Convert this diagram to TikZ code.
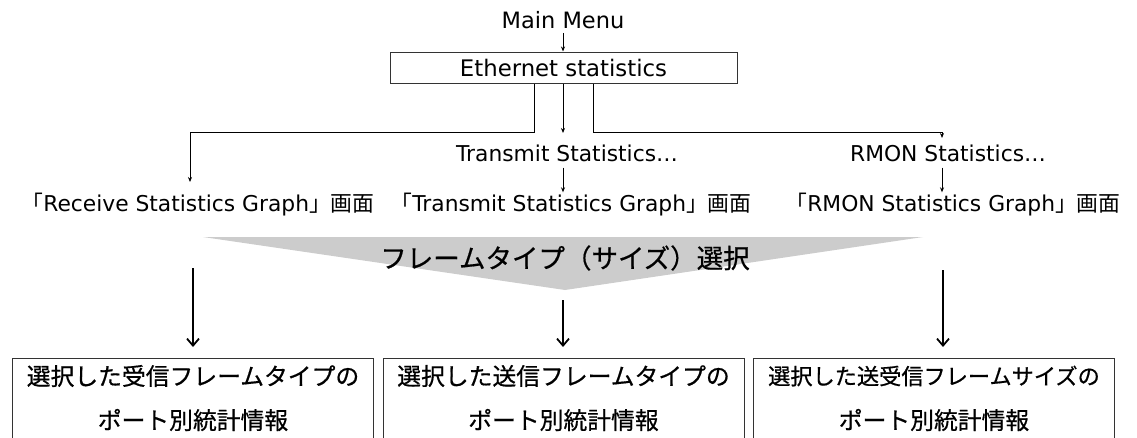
\documentclass[tikz,border=0pt]{standalone}
\usepackage{fontspec}
\setmainfont{DejaVu Sans}
\newfontfamily\jp{Noto Sans CJK JP}
\newfontfamily\jpw[FakeBold=0.6]{Noto Sans CJK JP}
\usetikzlibrary{arrows.meta}
\begin{document}
\begin{tikzpicture}[x=1pt,y=-1pt,
  lat/.style={inner sep=0pt, font=\fontsize{21.8}{25}\selectfont},
  jpbig/.style={inner sep=0pt, font=\jpw\fontsize{23.8}{28}\selectfont},
  jpmid/.style={inner sep=0pt, font=\jpw\fontsize{22.2}{28}\selectfont},
  banner/.style={inner sep=0pt, font=\jpw\fontsize{26.5}{30}\selectfont},
  ethbox/.style={draw=black!80, line width=1pt, minimum width=347pt, minimum height=31pt, inner sep=0pt, font=\fontsize{22.8}{25}\selectfont},
  outbox/.style={draw=black!80, line width=1pt, anchor=north west, minimum width=361pt, minimum height=110pt, inner sep=0pt},
  tarr/.style={line width=0.8pt, -{Stealth[length=5pt,width=4pt]}},
  bigarr/.style={line width=1.8pt, -{Straight Barb[length=7pt,width=12pt,line width=1.8pt]}, shorten >=11pt}
]
\useasboundingbox (0,0) rectangle (1137,437);
\clip (0,0) rectangle (1137,437);

% top
\node[lat, font=\fontsize{22.5}{25}\selectfont] (mm) at (563,20) {Main Menu};
\node[ethbox] (eth) at (563.5,67.5) {Ethernet statistics};

% middle labels
\node[lat] (tx) at (567,153) {Transmit Statistics…};
\node[lat] (rm) at (948,153) {RMON Statistics…};
\node[lat] (rxg) at (198,205) {{\jp 「}Receive Statistics Graph{\jp 」画面}};
\node[lat] (txg) at (571,205) {{\jp 「}Transmit Statistics Graph{\jp 」画面}};
\node[lat] (rmg) at (953,205) {{\jp 「}RMON Statistics Graph{\jp 」画面}};

% helper x positions
\coordinate (xl) at (534,0);
\coordinate (xm) at (563,0);
\coordinate (xr) at (593,0);
\coordinate (cl) at (190,182);
\coordinate (cr) at (942,138);
\coordinate (cm) at (563,133);

% connectors top
\draw[tarr] ([yshift=-4]mm.south -| xm) -- (eth.north -| xm);
\draw[tarr] (eth.south -| xl) |- (cl |- 0,132) -- (cl);
\draw[tarr] (eth.south -| xm) -- (cm);
\draw[tarr] (eth.south -| xr) |- (cr |- 0,132) -- (cr);
\draw[tarr] ([yshift=-6]tx.south -| xm) -- ([yshift=1]txg.north -| xm);
\draw[tarr] ([yshift=-6]rm.south -| cr) -- ([yshift=1]rmg.north -| cr);

% banner
\fill[black!20] (203,237) -- (923,237) -- (565,290) -- cycle;
\node[banner] (ban) at (565,258) {フレームタイプ（サイズ）選択};

% bottom boxes
\node[outbox] (b1) at (12,358) {};
\node[outbox] (b2) at (382.5,358) {};
\node[outbox] (b3) at (753,358) {};
\node[jpbig] (b1a) at (b1.north |- 0,376) {選択した受信フレームタイプの};
\node[jpbig] (b1b) at (b1.north |- 0,420) {ポート別統計情報};
\node[jpbig] (b2a) at (b2.north |- 0,376) {選択した送信フレームタイプの};
\node[jpbig] (b2b) at (b2.north |- 0,420) {ポート別統計情報};
\node[jpmid] (b3a) at (b3.north |- 0,376) {選択した送受信フレームサイズの};
\node[jpbig] (b3b) at (b3.north |- 0,420) {ポート別統計情報};

% big arrows
\coordinate (s1) at (193,268);
\coordinate (s2) at (563,300);
\coordinate (s3) at (943,270);
\draw[bigarr] (s1) -- (b1.north -| s1);
\draw[bigarr] (s2) -- (b2.north -| s2);
\draw[bigarr] (s3) -- (b3.north -| s3);
\end{tikzpicture}
\end{document}
